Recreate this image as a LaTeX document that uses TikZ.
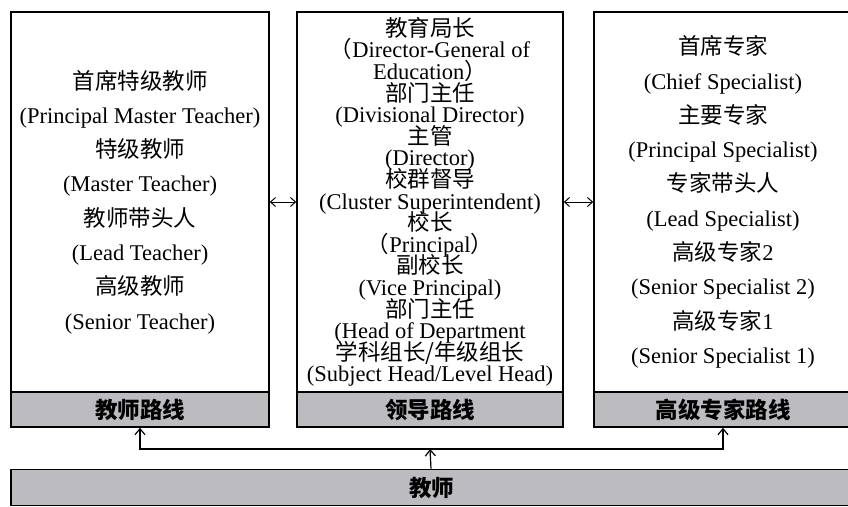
\documentclass[tikz,border=0pt]{standalone}
\usepackage{fontspec}
\setmainfont{Liberation Serif}
\newfontfamily\zhfont{Noto Sans CJK SC}
\newcommand{\zh}[1]{{\zhfont #1}}
\newcommand{\tightlines}{\lineskiplimit=-100pt\relax}
\usetikzlibrary{arrows.meta}
\definecolor{barfill}{RGB}{188,188,192}

\begin{document}
\begin{tikzpicture}[x=1pt,y=-1pt,
    pathbox/.style={draw,line width=1.6pt,minimum height=380pt,align=center,inner sep=0pt},
    pathbar/.style={draw,line width=1.6pt,fill=barfill,minimum height=35pt,font=\fontsize{22.5}{26}\selectfont\zhfont\bfseries},
    link/.style={line width=1pt,{Straight Barb[length=5pt,width=9pt]}-{Straight Barb[length=5pt,width=9pt]}},
    up/.style={line width=1.2pt,-{Straight Barb[length=6pt,width=10pt]}}]
                \useasboundingbox (0,0) rectangle (848,506);
                % three career paths
                \node [pathbox,minimum width=258pt,font=\fontsize{22.5}{34.3}\selectfont\tightlines] (tbox) at (140,202)
                    {\zh{首席特级教师}\\(Principal Master Teacher)\\\zh{特级教师}\\(Master Teacher)\\
                     \zh{教师带头人}\\(Lead Teacher)\\\zh{高级教师}\\(Senior Teacher)};
                \node [pathbox,minimum width=266pt,font=\fontsize{22.5}{21.6}\selectfont\tightlines] (lbox) at (430,202)
                    {\zh{教育局长}\\\zh{（}Director-General of\\Education\zh{）}\\\zh{部门主任}\\(Divisional Director)\\
                     \zh{主管}\\(Director)\\\zh{校群督导}\\(Cluster Superintendent)\\\zh{校长}\\\zh{（}Principal\zh{）}\\
                     \zh{副校长}\\(Vice Principal)\\\zh{部门主任}\\(Head of Department\\\zh{学科组长/年级组长}\\(Subject Head/Level Head)};
                \node [pathbox,minimum width=258pt,font=\fontsize{22.5}{34.3}\selectfont\tightlines] (sbox) at (723,202)
                    {\zh{首席专家}\\(Chief Specialist)\\\zh{主要专家}\\(Principal Specialist)\\\zh{专家带头人}\\(Lead Specialist)\\
                     \zh{高级专家}2\\(Senior Specialist 2)\\\zh{高级专家}1\\(Senior Specialist 1)};
                \node [pathbar,minimum width=258pt] (tbar) at (140,409.5) {教师路线};
                \node [pathbar,minimum width=266pt] (lbar) at (430,409.5) {领导路线};
                \node [pathbar,minimum width=258pt] (sbar) at (723,409.5) {高级专家路线};
                \node [pathbar,minimum width=841pt,minimum height=36pt] (base) at (431.5,487.5) {教师};
                \draw [link] (tbox.east)--(lbox.west);
                \draw [link] (lbox.east)--(sbox.west);
                \coordinate (split) at (431,449);
                \draw [up] (base.north-|split)--(split-|lbar.south);
                \draw [up] (split)-|(tbar.south);
                \draw [up] (split)-|(sbar.south);
                \end{tikzpicture}
\end{document}
